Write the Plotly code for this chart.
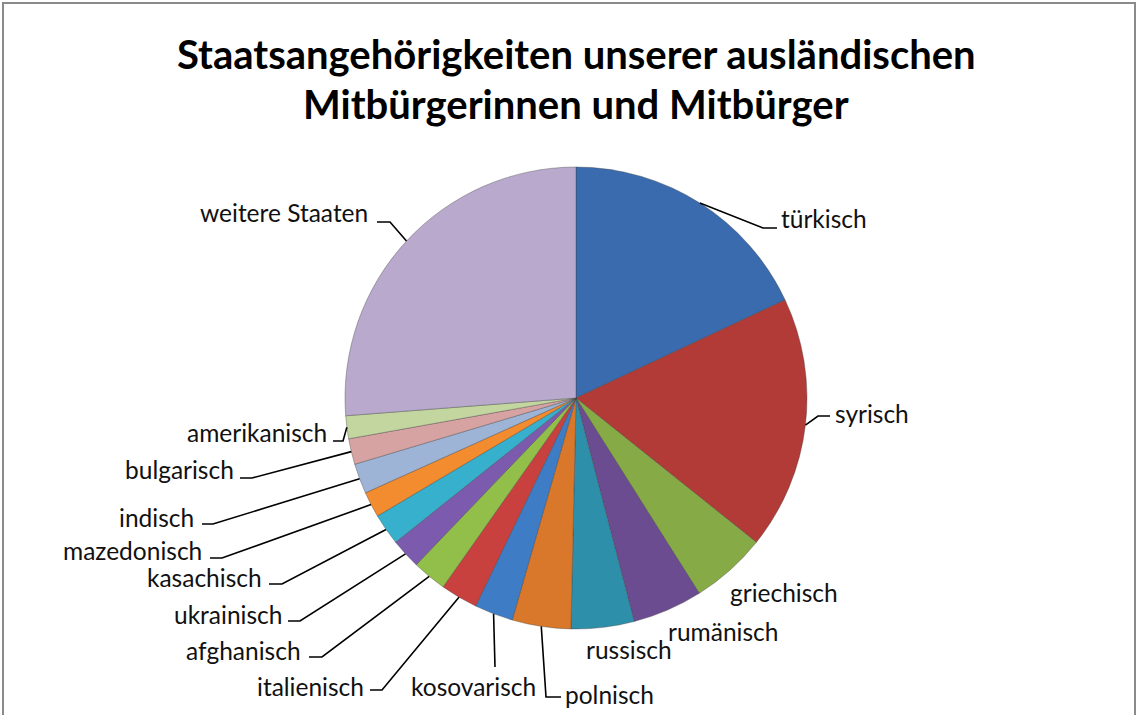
import math
import plotly.graph_objects as go

# ---- data (shares in percent) ----
categories = ["türkisch", "syrisch", "griechisch", "rumänisch", "russisch", "polnisch",
              "kosovarisch", "italienisch", "afghanisch", "ukrainisch", "kasachisch",
              "mazedonisch", "indisch", "bulgarisch", "amerikanisch", "weitere Staaten"]
shares = [18.0, 17.7, 5.3, 4.9, 4.4, 4.1, 2.7, 2.6, 2.4, 2.1, 2.2, 1.8, 2.1, 1.8, 1.6, 26.2]
colors = ["#3A6BAE", "#B23A37", "#86AA45", "#6B4C91", "#2E8FAA", "#D9782A",
          "#3E7CC6", "#C9413E", "#92BE4A", "#7C5BAE", "#36B0CC", "#F38B2F",
          "#9DB4D6", "#D7A3A2", "#C3D6A0", "#B8A9CD"]
title_lines = ["Staatsangehörigkeiten unserer ausländischen", "Mitbürgerinnen und Mitbürger"]

# ---- layout constants (pixels) ----
W, H = 1138, 715
CX, CY, R = 576, 398, 231

# label placement: (anchor, text_x, text_y, leader points after edge point)
label_layout = {
    "türkisch":        ("left", 779, 218, [(763, 228), (777, 228)]),
    "syrisch":         ("left", 833, 413, [(818, 416), (830, 416)]),
    "griechisch":      ("left", 728, 592, None),
    "rumänisch":       ("left", 666, 631, None),
    "russisch":        ("left", 584, 649, None),
    "polnisch":        ("left", 563, 694, [(546, 697), (561, 697)]),
    "kosovarisch":     ("center", 473, 686, [(495, 667)]),
    "italienisch":     ("right", 366, 686, [(382, 690), (370, 690)]),
    "afghanisch":      ("right", 303, 650, [(322, 657), (309, 657)]),
    "ukrainisch":      ("right", 284, 614, [(300, 621), (288, 621)]),
    "kasachisch":      ("right", 264, 577, [(282, 584), (269, 584)]),
    "mazedonisch":     ("right", 204, 550, [(222, 558), (210, 558)]),
    "indisch":         ("right", 196, 517, [(213, 524), (202, 524)]),
    "bulgarisch":      ("right", 236, 470, [(252, 478), (240, 478)]),
    "amerikanisch":    ("right", 329, 432, [(343, 441), (333, 441)]),
    "weitere Staaten": ("right", 370, 213, [(390, 222), (377, 222)]),
}


def px(x):
    return x / W


def py(y):
    return 1 - y / H


fig = go.Figure()
fig.add_trace(go.Pie(
    labels=categories, values=shares, sort=False, direction="clockwise", rotation=0,
    marker=dict(colors=colors, line=dict(color="rgba(60,60,60,0.45)", width=0.8)),
    textinfo="none", hoverinfo="label+percent", showlegend=False,
    domain=dict(x=[px(CX - R), px(CX + R)], y=[py(CY + R), py(CY - R)]),
))

shapes = []
annotations = []
total = sum(shares)
cum = 0.0
for cat, v in zip(categories, shares):
    mid = (cum + v / 2) / total * 2 * math.pi
    cum += v
    ex = CX + R * math.sin(mid)
    ey = CY - R * math.cos(mid)
    anchor, tx, ty, pts = label_layout[cat]
    if pts:
        path = [(ex, ey)] + pts
        d = "M " + " L ".join(f"{px(a):.5f},{py(b):.5f}" for a, b in path)
        shapes.append(dict(type="path", xref="paper", yref="paper", path=d,
                           line=dict(color="black", width=1.6)))
    annotations.append(dict(text=cat, x=px(tx), y=py(ty), xref="paper", yref="paper",
                            xanchor=anchor, yanchor="middle", showarrow=False,
                            font=dict(family="Lato", size=24.5, color="#111111")))

# title
for i, line in enumerate(title_lines):
    annotations.append(dict(text=f"<b>{line}</b>", x=px(576), y=py(54 + 50 * i),
                            xref="paper", yref="paper", xanchor="center", yanchor="middle",
                            showarrow=False, font=dict(family="Lato", size=40, color="black")))

# frame
shapes.append(dict(type="rect", xref="paper", yref="paper", x0=px(3), x1=px(1135),
                   y0=-0.05, y1=py(3), line=dict(color="#8a8a8a", width=2)))

fig.update_layout(width=W, height=H, margin=dict(l=0, r=0, t=0, b=0),
                  paper_bgcolor="white", plot_bgcolor="white",
                  shapes=shapes, annotations=annotations)

fig.write_html("out.html", config={"displayModeBar": False},
               post_script="document.body.style.margin='0';")
